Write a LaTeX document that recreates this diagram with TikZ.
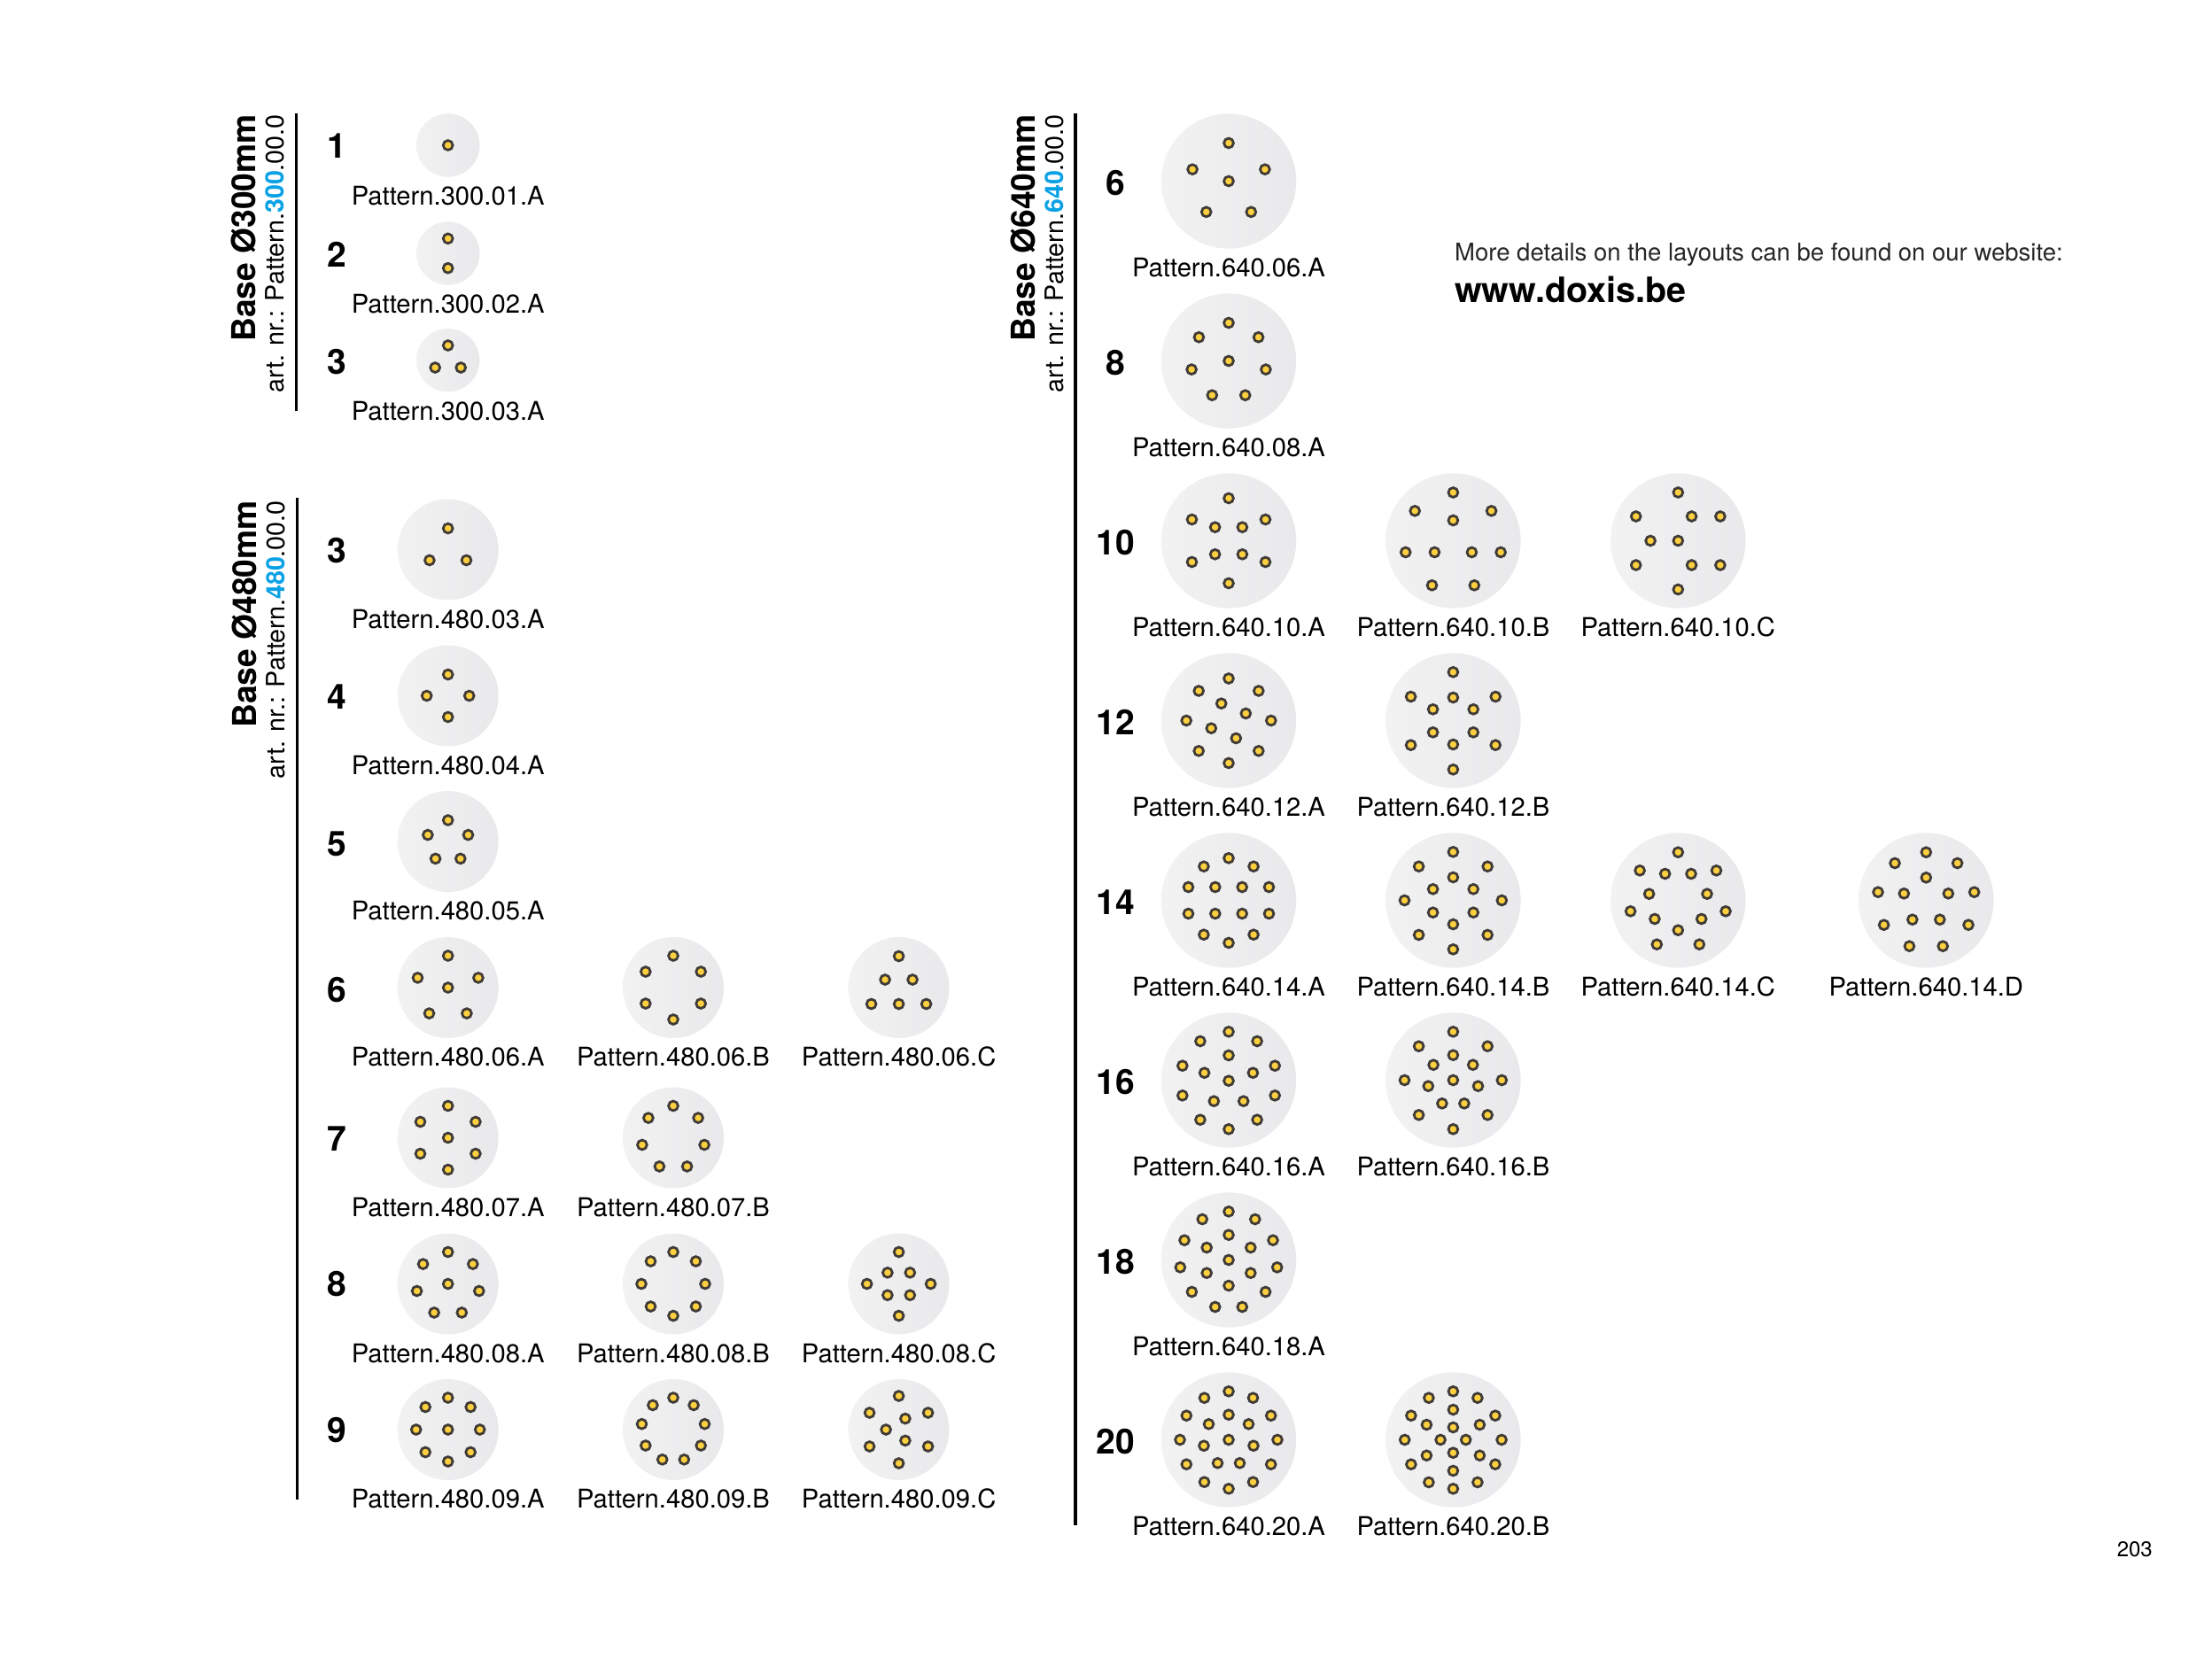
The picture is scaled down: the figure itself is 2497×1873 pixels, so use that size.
\documentclass[tikz,border=0pt]{standalone}
\usepackage{fontspec}
\setmainfont{TeX Gyre Heros}
\usetikzlibrary{positioning}
\definecolor{discleft}{HTML}{F2F2F3}
\definecolor{discright}{HTML}{E9E9EB}
\definecolor{holefill}{HTML}{FDD03F}
\definecolor{holeline}{HTML}{403B37}
\definecolor{artblue}{HTML}{0AA2E4}
\tikzset{
  disc/.style={circle, inner sep=0, left color=discleft, right color=discright},
  discS/.style={disc, minimum size=71.4pt},
  discM/.style={disc, minimum size=114pt},
  discL/.style={disc, minimum size=152.4pt},
  hole/.style={circle, inner sep=0, minimum size=10.8pt, line width=2.8pt, draw=holeline, fill=holefill},
  patlabel/.style={inner sep=0, font=\fontsize{29.2}{31}\selectfont, text height=20.6pt, text depth=0pt},
  rownr/.style={inner sep=0, font=\fontsize{39}{41}\selectfont\bfseries},
  basetitle/.style={inner sep=0, anchor=base east, rotate=90, font=\fontsize{37.2}{39}\selectfont\bfseries},
  artnr/.style={inner sep=0, anchor=base east, rotate=90, font=\fontsize{28.7}{30}\selectfont},
  bar/.style={line width=3.2pt},
}
\newcommand{\Pat}[6]{%
  \node[#1] (#2) at (#3) {};
  \node[patlabel, below=#6pt of #2] (#2t) {Pattern.#4};
  \foreach \dx/\dy [count=\i] in {#5}
    \node[hole] (#2h\i) at ([shift={(\dx,\dy)}]#2) {};
}
\newcommand{\PatS}[4]{\Pat{discS}{#1}{#2}{#3}{#4}{10.6}}
\newcommand{\PatM}[4]{\Pat{discM}{#1}{#2}{#3}{#4}{10.6}}
\newcommand{\PatL}[4]{\Pat{discL}{#1}{#2}{#3}{#4}{11.2}}
\begin{document}
\begin{tikzpicture}[x=1pt, y=-1pt]
\useasboundingbox (0,0) rectangle (2497,1873);

% base 300
\node[basetitle] (t300) at (288,129) {Base Ø300mm};
\node[artnr] (a300) at (320,129) {art. nr.: Pattern.\textcolor{artblue}{\bfseries 300}.00.0};
\coordinate (b300a) at (334.5,128);
\coordinate (b300b) at (334.5,463.5);
\draw[bar] (b300a) -- (b300b);
\node[rownr] (n300a) at (380.5,165) {1};
\node[rownr] (n300b) at (380.5,287) {2};
\node[rownr] (n300c) at (380.5,408.5) {3};
\PatS{p300a}{505.7,164}{300.01.A}{0/0}
\PatS{p300b}{505.7,286}{300.02.A}{0/-16.7, 0/16.7}
\PatS{p300c}{505.7,406.7}{300.03.A}{0/-16.7, -14.5/8.3, 14.5/8.3}

% base 480
\node[basetitle] (t480) at (289,565) {Base Ø480mm};
\node[artnr] (a480) at (321,565) {art. nr.: Pattern.\textcolor{artblue}{\bfseries 480}.00.0};
\coordinate (b480a) at (335.5,562);
\coordinate (b480b) at (335.5,1693);
\draw[bar] (b480a) -- (b480b);
\node[rownr] (n480a) at (380.5,621.5) {3};
\node[rownr] (n480b) at (380.5,787) {4};
\node[rownr] (n480c) at (380.5,952.5) {5};
\node[rownr] (n480d) at (380.5,1117.5) {6};
\node[rownr] (n480e) at (380.5,1285.5) {7};
\node[rownr] (n480f) at (380.5,1450) {8};
\node[rownr] (n480g) at (380.5,1615) {9};
\PatM{p03a}{505.7,620.5}{480.03.A}{0/-24, -20.8/12, 20.8/12}
\PatM{p04a}{505.7,785.5}{480.04.A}{0/-24, -24/0, 24/0, 0/24}
\PatM{p05a}{505.7,950}{480.05.A}{0/-24, -22.8/-7.4, 22.8/-7.4, -14.1/19.4, 14.1/19.4}
\PatM{p06a}{505.7,1115}{480.06.A}{0/-36, -34.2/-11.1, 34.2/-11.1, -21.2/29.1, 21.2/29.1, 0/0}
\PatM{p06b}{760,1115}{480.06.B}{0/-36, -31.2/-18, 31.2/-18, -31.2/18, 31.2/18, 0/36}
\PatM{p06c}{1014.6,1115}{480.06.C}{0/-35.5, -15.5/-9, 15.5/-9, -31/18.5, 0/18.5, 31/18.5}
\PatM{p07a}{505.7,1284.5}{480.07.A}{0/-36, -31.2/-18, 31.2/-18, -31.2/18, 31.2/18, 0/36, 0/0}
\PatM{p07b}{760,1284.5}{480.07.B}{0/-36, -28.1/-22.4, 28.1/-22.4, -35.1/8, 35.1/8, -15.6/32.4, 15.6/32.4}
\PatM{p08a}{505.7,1449.5}{480.08.A}{0/-36, -28.1/-22.4, 28.1/-22.4, -35.1/8, 35.1/8, -15.6/32.4, 15.6/32.4, 0/0}
\PatM{p08b}{760,1449.5}{480.08.B}{0/-36, -25.5/-25.5, 25.5/-25.5, -36/0, 36/0, -25.5/25.5, 25.5/25.5, 0/36}
\PatM{p08c}{1014.6,1449.5}{480.08.C}{0/-36, -12.7/-12.7, 12.7/-12.7, -36/0, 36/0, -12.7/12.7, 12.7/12.7, 0/36}
\PatM{p09a}{505.7,1614}{480.09.A}{0/-36, -25.5/-25.5, 25.5/-25.5, -36/0, 0/0, 36/0, -25.5/25.5, 25.5/25.5, 0/36}
\PatM{p09b}{760,1614}{480.09.B}{0/-36, -23.1/-27.6, 23.1/-27.6, -35.5/-6.3, 35.5/-6.3, -31.2/18, 31.2/18, -12.3/33.8, 12.3/33.8}
\PatM{p09c}{1014.6,1614}{480.09.C}{0/-38, -33/-19, 33/-19, -33/19, 33/19, 0/38, -14.5/0, 7.3/-12.4, 7.3/12.4}

% base 640
\node[basetitle] (t640) at (1168.5,129) {Base Ø640mm};
\node[artnr] (a640) at (1200,129) {art. nr.: Pattern.\textcolor{artblue}{\bfseries 640}.00.0};
\coordinate (b640a) at (1214,128);
\coordinate (b640b) at (1214,1722);
\draw[bar] (b640a) -- (b640b);
\node[rownr] (n640a) at (1259.5,206.5) {6};
\node[rownr] (n640b) at (1259.5,409.5) {8};
\node[rownr] (n640c) at (1259.5,612.5) {10};
\node[rownr] (n640d) at (1259.5,815.5) {12};
\node[rownr] (n640e) at (1259.5,1018.5) {14};
\node[rownr] (n640f) at (1259.5,1221.5) {16};
\node[rownr] (n640g) at (1259.5,1424.5) {18};
\node[rownr] (n640h) at (1259.5,1627.5) {20};
\PatL{q06a}{1387,204.5}{640.06.A}{0/-43, -40.9/-13.3, 40.9/-13.3, -25.3/34.8, 25.3/34.8, 0/0}
\PatL{q08a}{1387,407.5}{640.08.A}{0/-43, -33.6/-26.8, 33.6/-26.8, -41.9/9.6, 41.9/9.6, -18.7/38.7, 18.7/38.7, 0/0}
\PatL{q10a}{1387,610.5}{640.10.A}{0/-48, -41.5/-24, 41.5/-24, -15.4/-15.3, 15.4/-15.3, -41.5/24, 41.5/24, -15.4/15.3, 15.4/15.3, 0/48}
\PatL{q10b}{1640.4,610.5}{640.10.B}{0/-54.5, -43.2/-33.7, 43.2/-33.7, 0/-23, -53.7/13, 53.7/13, -21/13, 21/13, -23.9/50.3, 23.9/50.3}
\PatL{q10c}{1894.3,610.5}{640.10.C}{0/-54.5, -47.6/-27.5, 47.6/-27.5, 15.3/-27.5, -31.2/0, 0/0, -47.6/27.5, 47.6/27.5, 15.3/27.5, 0/55}
\PatL{q12a}{1387,813.5}{640.12.A}{0/-47.5, -33.8/-33.5, 33.8/-33.5, -8.3/-19.3, 19.3/-8, -47.8/0, 47.8/0, -19.7/8.7, 8.3/20, -33.8/34.3, 33.8/34.3, 0/48}
\PatL{q12b}{1640.4,813.5}{640.12.B}{0/-54.7, -47.8/-27, 47.8/-27, 0/-26, -22.8/-12.7, 22.8/-12.7, -22.8/13.3, 22.8/13.3, -47.8/27.7, 47.8/27.7, 0/27, 0/55.3}
\PatL{q14a}{1387,1016.5}{640.14.A}{0/-47.7, -28.1/-38.3, 28.1/-38.3, -45.5/-15, -15.2/-15, 15.2/-15, 45.5/-15, -45.5/15, -15.2/15, 15.2/15, 45.5/15, -28.1/38.7, 28.1/38.7, 0/48}
\PatL{q14b}{1640.4,1016.5}{640.14.B}{0/-54.7, -38.8/-38.3, 38.8/-38.3, 0/-26, -22.8/-12.7, 22.8/-12.7, -54.9/0, 54.9/0, -22.8/13.7, 22.8/13.7, 0/27, -38.8/39, 38.8/39, 0/55.3}
\PatL{q14c}{1894.3,1016.5}{640.14.C}{0/-54.3, -43.2/-33.7, 43.2/-33.7, -14.7/-30, 14.7/-30, -32.7/-7.3, 32.7/-7.3, -53.7/12.3, 53.7/12.3, -26.4/21, 26.4/21, 0/33.7, -24/49.7, 24/49.7}
\PatL{q14d}{2174.3,1016.5}{640.14.D}{0/-54.3, -35.3/-42, 35.3/-42, 0/-25.7, -54.3/-9.3, 54.3/-9.3, -25/-7.7, 25/-7.7, -47.7/27.7, 47.7/27.7, -15.5/21.7, 15.5/21.7, -18.9/51.7, 18.9/51.7}
\PatL{q16a}{1387,1219.5}{640.16.A}{0/-54.7, -32.1/-44, 32.1/-44, 0/-28, -52.2/-16.3, 52.2/-16.3, -27.4/-8.3, 27.4/-8.3, 0/0.7, -52.2/17.3, 52.2/17.3, -16.7/23.7, 16.7/23.7, -32.1/44.7, 32.1/44.7, 0/55.3}
\PatL{q16b}{1640.4,1219.5}{640.16.B}{0/-54.7, -38.8/-38.3, 38.8/-38.3, 0/-28.3, -22.3/-17.3, 22.3/-17.3, -54.9/0, 54.9/0, 0/0, -28.1/6.7, 28.1/6.7, -12.5/26.3, 12.5/26.3, -38.8/39.3, 38.8/39.3, 0/55.3}
\PatL{q18a}{1387,1422.5}{640.18.A}{0/-54.7, -29.8/-46, 29.8/-46, 0/-28.3, -50/-22.3, 50/-22.3, -24.8/-14, 24.8/-14, 0/0, -54.7/8.3, 54.7/8.3, -24.8/14.7, 24.8/14.7, 0/29, -41.6/36, 41.6/36, -15.3/53, 15.3/53}
\PatL{q20a}{1387,1625.5}{640.20.A}{0/-54.7, -27.5/-47.3, 27.5/-47.3, 0/-28.3, -47.7/-27.3, 47.7/-27.3, -22.5/-17.7, 22.5/-17.7, -55/0, 55/0, 0/0, -28/6.7, 28/6.7, -12.5/26.3, 12.5/26.3, -47.7/27.7, 47.7/27.7, -27.5/47.7, 27.5/47.7, 0/55.3}
\PatL{q20b}{1640.4,1625.5}{640.20.B}{0/-54.7, -27.5/-47.3, 27.5/-47.3, 0/-34, -47.5/-27.3, 47.5/-27.3, -30/-17, 30/-17, 0/-14, -54.7/0, 54.7/0, -14.3/0, 14.3/0, -30/17.7, 30/17.7, 0/14.7, 0/35, -47.5/27.7, 47.5/27.7, -27.5/48, 27.5/48, 0/55.3}

\node[inner sep=0, anchor=base west, font=\fontsize{27.5}{30}\selectfont, text=black!85] (info) at (1642,294) {More details on the layouts can be found on our website:};
\node[inner sep=0, anchor=base west, font=\fontsize{39.5}{42}\selectfont\bfseries] (web) at (1642,341.5) {www.doxis.be};
\node[inner sep=0, anchor=base east, font=\fontsize{24}{26}\selectfont] (page) at (2430,1757) {203};
\end{tikzpicture}
\end{document}
